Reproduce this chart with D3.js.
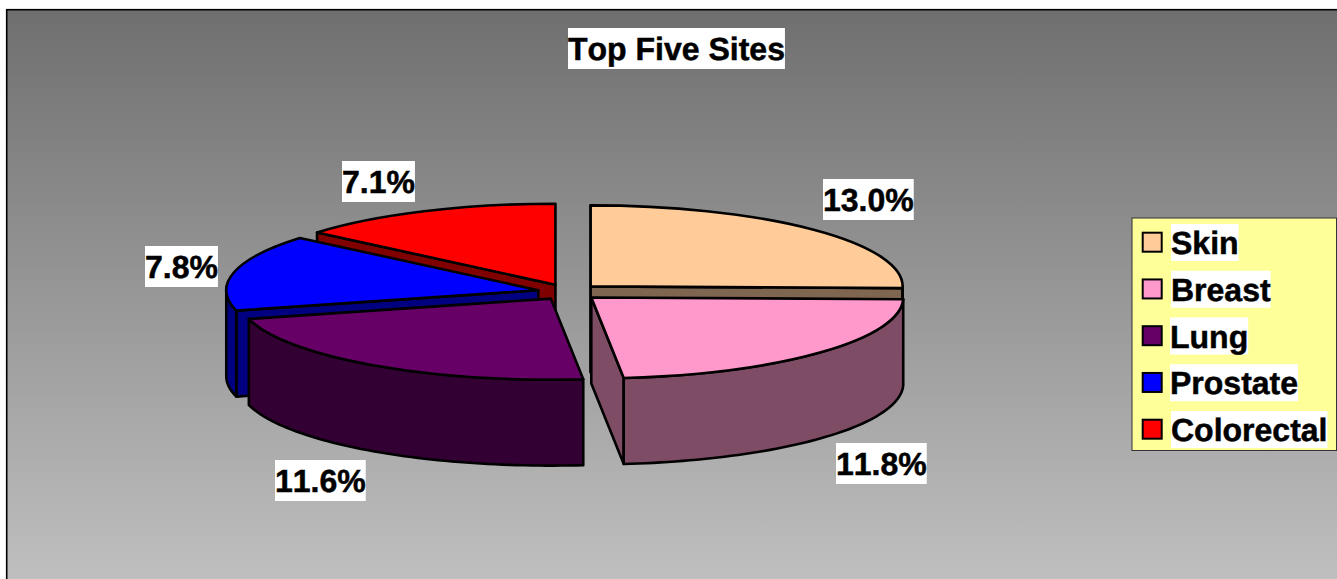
<!DOCTYPE html>
<html><head><meta charset="utf-8">
<script src="https://cdn.jsdelivr.net/npm/d3@7/dist/d3.min.js"></script>
<style>html,body{margin:0;padding:0;background:#fff;overflow:hidden}svg{display:block}text{font-family:"Liberation Sans",Arial,sans-serif;font-weight:700;font-size:32px;fill:#000;font-kerning:none;text-rendering:geometricPrecision;stroke:#000;stroke-width:.5px}</style>
</head><body><svg id="c" width="1337" height="579"></svg>
<script>
const categories=["Skin","Breast","Lung","Prostate","Colorectal"];
const percents=[13.0,11.8,11.6,7.8,7.1];
const topColors=["#ffcc99","#ff99cc","#660066","#0000ff","#ff0000"];
const sideColors=["#7f6650","#7f4c66","#330033","#000080","#800000"];
const chartTitle="Top Five Sites";

const W=1337,H=579;
const C={x:568.5,y:292},rx=312,ry=81,depth=86,explode=31;
const labelBoxes=[[823,179],[836,443],[275,460],[145,246],[342,161]];
const drawOrder=[4,0,3,2,1];

const svg=d3.select("#c");
const defs=svg.append("defs");
const g=defs.append("linearGradient").attr("id","bg").attr("gradientUnits","userSpaceOnUse").attr("x1",0).attr("y1",10).attr("x2",0).attr("y2",579);
g.append("stop").attr("offset",0).attr("stop-color","#6f6f6f");
g.append("stop").attr("offset",1).attr("stop-color","#bfbfbf");
svg.append("rect").attr("x",6.7).attr("y",9.7).attr("width",W+20).attr("height",H+20)
  .attr("fill","url(#bg)").attr("stroke","#000").attr("stroke-width",1.6);

const arcs=d3.pie().sort(null).value(d=>d)(percents);
const arcTop=d3.arc().innerRadius(0).outerRadius(rx);
const line=d3.line();

const slices=svg.append("g").attr("stroke-linejoin","round");
drawOrder.forEach(i=>{
  const a=arcs[i];
  const mid=(a.startAngle+a.endAngle)/2;
  const ax=C.x+explode*Math.sin(mid), ay=C.y-explode*Math.cos(mid)*ry/rx;
  const pt=(t,dz=0)=>[ax+rx*Math.sin(t),ay-ry*Math.cos(t)+dz];
  const s=slices.append("g").attr("class","slice");
  const style=sel=>sel.attr("stroke","#000").attr("stroke-width",2.6);
  const face=t=>{
    style(s.append("path").attr("d",line([[ax,ay],pt(t),pt(t,depth),[ax,ay+depth]])+"Z").attr("fill",sideColors[i]));
  };
  // cut faces that look toward the viewer
  if(Math.sin(a.startAngle)<=1e-9) face(a.startAngle);
  if(Math.sin(a.endAngle)>1e-9) face(a.endAngle);
  // outer wall, visible only on the near half of the ellipse
  const from=Math.max(a.startAngle,Math.PI/2), to=Math.min(a.endAngle,Math.PI*1.5);
  if(to>from){
    const ts=d3.range(0,61).map(k=>from+(to-from)*k/60);
    const pts=ts.map(t=>pt(t)).concat(ts.slice().reverse().map(t=>pt(t,depth)));
    style(s.append("path").attr("d",line(pts)+"Z").attr("fill",sideColors[i]));
  }
  // top surface: d3.arc squashed into the projected ellipse
  style(s.append("path").attr("d",arcTop(a))
    .attr("transform",`translate(${ax},${ay}) scale(1,${ry/rx})`)
    .attr("vector-effect","non-scaling-stroke").attr("fill",topColors[i]));
});

function boxedText(parent,str,x,y,h,base){
  const t=parent.append("text").attr("x",x).attr("y",y+base).text(str);
  const w=t.node().getComputedTextLength();
  parent.insert("rect","text").attr("x",x).attr("y",y).attr("width",w).attr("height",h).attr("fill","#fff");
  return t;
}
const tg=svg.append("g");
boxedText(tg.append("g"),chartTitle,568,28,41,32);
percents.forEach((p,i)=>boxedText(tg.append("g"),p.toFixed(1)+"%",labelBoxes[i][0],labelBoxes[i][1],41,32));

const lg=svg.append("g");
lg.append("rect").attr("x",1132).attr("y",218).attr("width",204.5).attr("height",232.5)
  .attr("fill","#ffff99").attr("stroke","#333").attr("stroke-width",1);
const rowY=d3.scalePoint().domain(categories).range([224,411]);
const textX=[1171,1171,1170,1170,1171];
categories.forEach((c,i)=>{
  const y=rowY(c), row=lg.append("g");
  row.append("rect").attr("x",1142.7).attr("y",y+8.7).attr("width",19).attr("height",19)
    .attr("fill",topColors[i]).attr("stroke","#000").attr("stroke-width",2);
  boxedText(row,c,textX[i],y,37,30);
});
</script></body></html>
